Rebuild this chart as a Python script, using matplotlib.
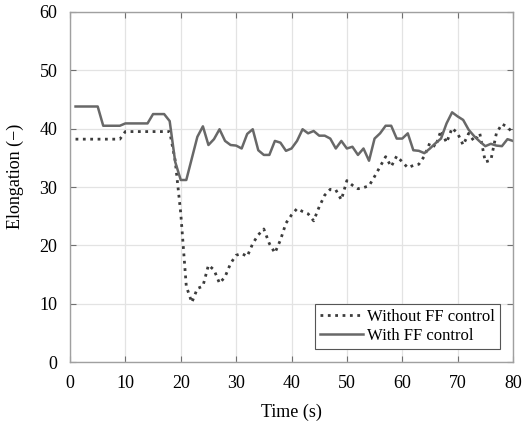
import matplotlib
matplotlib.use("Agg")
import matplotlib.pyplot as plt
import numpy as np

plt.rcParams['font.family'] = ['Liberation Serif', 'DejaVu Serif']

# time axis, one sample per second
time_s = np.arange(1, 81)

without_ff = [
    38.2, 38.2, 38.2, 38.2, 38.2, 38.2, 38.2, 38.2, 38.2, 39.5,
    39.5, 39.5, 39.5, 39.5, 39.5, 39.5, 39.5, 39.5, 34.5, 25.5,
    13.0, 10.2, 12.6, 13.0, 16.6, 15.8, 13.5, 14.6, 16.9, 18.3,
    18.6, 18.1, 20.3, 21.8, 22.8, 20.3, 18.7, 20.9, 23.8, 25.2,
    26.3, 25.8, 25.4, 24.2, 26.6, 28.6, 29.6, 29.5, 27.8, 31.1,
    30.3, 29.7, 29.9, 30.2, 31.8, 33.5, 35.2, 33.5, 35.3, 34.3,
    33.3, 33.7, 33.9, 35.3, 37.6, 36.9, 39.7, 37.6, 40.1, 39.2,
    37.2, 39.2, 37.8, 39.2, 34.3, 34.6, 39.2, 40.8, 40.3, 39.2,
]

with_ff = [
    43.8, 43.8, 43.8, 43.8, 43.8, 40.5, 40.5, 40.5, 40.5, 40.9,
    40.9, 40.9, 40.9, 40.9, 42.5, 42.5, 42.5, 41.3, 34.3, 31.2,
    31.2, 34.9, 38.6, 40.4, 37.2, 38.2, 39.9, 37.9, 37.2, 37.1,
    36.6, 39.1, 39.9, 36.3, 35.5, 35.5, 37.9, 37.6, 36.2, 36.6,
    37.9, 39.9, 39.2, 39.6, 38.8, 38.8, 38.3, 36.6, 37.9, 36.6,
    36.9, 35.5, 36.6, 34.5, 38.3, 39.2, 40.5, 40.5, 38.3, 38.3,
    39.2, 36.3, 36.2, 35.8, 36.6, 37.5, 38.3, 40.9, 42.8, 42.1,
    41.5, 39.8, 38.7, 37.8, 37.0, 37.4, 37.1, 37.0, 38.2, 37.9,
]

fig = plt.figure(figsize=(5.24, 4.23), dpi=100)
ax = fig.add_axes([70 / 524, 61 / 423, 443 / 524, 350 / 423])

ax.plot(time_s, without_ff, linestyle=':', color='#3c3c3c', linewidth=2.0,
        label='Without FF control')
ax.plot(time_s, with_ff, linestyle='-', color='#686868', linewidth=1.8,
        label='With FF control')

ax.set_xlim(0, 80)
ax.set_ylim(0, 60)
ax.set_xticks(range(0, 81, 10))
ax.set_yticks(range(0, 61, 10))
ax.grid(True, color='#e3e3e3', linewidth=0.9)
ax.set_axisbelow(True)

for sp in ax.spines.values():
    sp.set_color('#a0a0a0')
    sp.set_linewidth(1.0)
ax.tick_params(direction='in', top=True, right=True, length=4,
               color='#707070', labelsize=13)
ax.tick_params(axis='y', pad=9)
ax.tick_params(axis='x', pad=9)

ax.set_xlabel('Time (s)', fontsize=13, labelpad=9)
ax.set_ylabel('Elongation (\u2212)', fontsize=13)
ax.yaxis.set_label_coords(-0.104, 0.53)

leg = ax.legend(loc='lower right', fontsize=12, handlelength=2.6,
                handletextpad=0.2, borderpad=0.3, labelspacing=0.15,
                fancybox=False, framealpha=1.0, borderaxespad=0.8)
leg.get_frame().set_edgecolor('#555555')
leg.get_frame().set_linewidth(0.8)

fig.savefig('out.png', dpi=100)
